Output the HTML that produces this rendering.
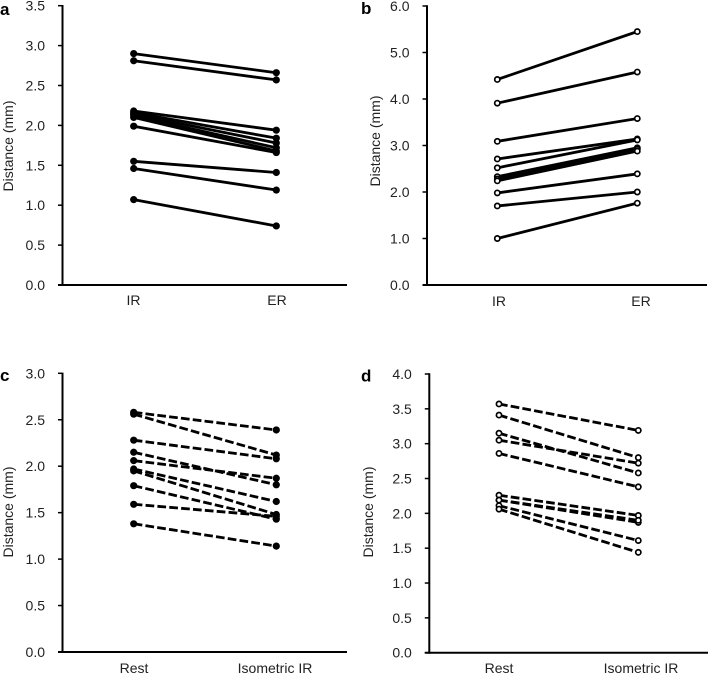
<!DOCTYPE html>
<html lang="en">
<head>
<meta charset="utf-8">
<title>Distance charts</title>
<style>
html,body{margin:0;padding:0;background:#fff;}
svg{display:block;font-family:"Liberation Sans",Arial,sans-serif;}
text{fill:#222;}
</style>
</head>
<body>
<svg id="chart" xmlns="http://www.w3.org/2000/svg" width="708" height="674" viewBox="0 0 708 674"></svg>
<script>
// Panel a
const aCategories = ["IR", "ER"];
const aTicks = ["0.0", "0.5", "1.0", "1.5", "2.0", "2.5", "3.0", "3.5"];
const aFirst = [2.90, 2.81, 2.18, 2.16, 2.14, 2.12, 2.10, 1.99, 1.55, 1.46, 1.07];
const aSecond = [2.66, 2.57, 1.94, 1.84, 1.78, 1.72, 1.68, 1.66, 1.41, 1.19, 0.74];
// Panel b
const bCategories = ["IR", "ER"];
const bTicks = ["0.0", "1.0", "2.0", "3.0", "4.0", "5.0", "6.0"];
const bFirst = [4.42, 3.91, 3.09, 2.71, 2.52, 2.33, 2.28, 2.24, 1.98, 1.70, 1.00];
const bSecond = [5.45, 4.58, 3.58, 3.14, 3.12, 2.95, 2.92, 2.88, 2.39, 2.00, 1.76];
// Panel c
const cCategories = ["Rest", "Isometric IR"];
const cTicks = ["0.0", "0.5", "1.0", "1.5", "2.0", "2.5", "3.0"];
const cFirst = [2.58, 2.56, 2.28, 2.15, 2.06, 1.97, 1.95, 1.79, 1.59, 1.38];
const cSecond = [2.39, 2.12, 2.08, 1.80, 1.87, 1.62, 1.48, 1.43, 1.46, 1.14];
// Panel d
const dCategories = ["Rest", "Isometric IR"];
const dTicks = ["0.0", "0.5", "1.0", "1.5", "2.0", "2.5", "3.0", "3.5", "4.0"];
const dFirst = [3.57, 3.41, 3.15, 3.05, 2.86, 2.26, 2.19, 2.19, 2.11, 2.06];
const dSecond = [3.19, 2.80, 2.58, 2.72, 2.38, 1.97, 1.87, 1.90, 1.61, 1.44];

const SVG_NS = "http://www.w3.org/2000/svg";
const root = document.getElementById("chart");

function make(parent, tag, attrs, text) {
  const el = document.createElementNS(SVG_NS, tag);
  for (const k in attrs) el.setAttribute(k, attrs[k]);
  if (text !== undefined) el.textContent = text;
  parent.appendChild(el);
  return el;
}

function drawPanel(p) {
  const g = make(root, "g", {});
  
  

  const maxVal = parseFloat(p.ticks[p.ticks.length - 1]);
  const y = v => p.bottom - (v / maxVal) * (p.bottom - p.top);
  const x = i => (i === 0 ? p.x0 : p.x1);

  const letter = make(g, "text", {x: p.letterX, y: p.letterY, "font-size": 17, "font-weight": "bold", style: "fill:#000"}, p.letter);
  
  

  const title = make(g, "text", {
    x: 0, y: 0, "font-size": 14, "text-anchor": "middle",
    transform: "translate(" + p.titleX + "," + p.titleY + ") rotate(-90)"
  }, "Distance (mm)");
  
  

  p.ticks.forEach(t => {
    const v = parseFloat(t);
    const tick = make(g, "line", {x1: p.axisX - 4.5, x2: p.axisX, y1: y(v), y2: y(v), stroke: "#000", "stroke-width": 1.5});
    
    
    const label = make(g, "text", {x: p.axisX - 17.5, y: y(v) + 5, "font-size": 14, "text-anchor": "end"}, t);
    
    
  });

  const yAxis = make(g, "line", {x1: p.axisX, x2: p.axisX, y1: p.top - 0.7, y2: p.bottom + 1, stroke: "#000", "stroke-width": 2});
  
  
  const xAxis = make(g, "line", {x1: p.axisX - 4.5, x2: p.axisEnd, y1: p.bottom, y2: p.bottom, stroke: "#000", "stroke-width": 2});
  
  

  p.categories.forEach((c, i) => {
    const label = make(g, "text", {x: p.labelX[i], y: p.labelY, "font-size": 14, "text-anchor": "middle"}, c);
    
    
  });

  p.first.forEach((v, i) => {
    const attrs = {x1: x(0), y1: y(v), x2: x(1), y2: y(p.second[i]), stroke: "#000", "stroke-width": 2.8};
    if (p.dashed) attrs["stroke-dasharray"] = "8.7 3.2";
    const seg = make(g, "line", attrs);
    
    
  });

  p.first.forEach((v, i) => {
    [v, p.second[i]].forEach((val, side) => {
      const dot = make(g, "circle", {
        cx: x(side), cy: y(val), r: p.open ? 2.6 : 3.6,
        fill: p.open ? "#fff" : "#000", stroke: "#000", "stroke-width": p.open ? 1.7 : 0
      });
      
      
    });
  });
}

drawPanel({letter: "a", categories: aCategories, ticks: aTicks, first: aFirst, second: aSecond,
  axisX: 62.5, axisEnd: 347, top: 5.7, bottom: 285, x0: 133.7, x1: 276.3,
  labelX: [133.5, 277], labelY: 305, titleX: 13, titleY: 146, letterX: 0, letterY: 15, open: false, dashed: false});
drawPanel({letter: "b", categories: bCategories, ticks: bTicks, first: bFirst, second: bSecond,
  axisX: 427, axisEnd: 707, top: 6, bottom: 285, x0: 497.3, x1: 637.3,
  labelX: [499, 641], labelY: 306, titleX: 380, titleY: 141, letterX: 361, letterY: 14, open: true, dashed: false});
drawPanel({letter: "c", categories: cCategories, ticks: cTicks, first: cFirst, second: cSecond,
  axisX: 62.5, axisEnd: 347, top: 373.3, bottom: 652, x0: 133.7, x1: 276.3,
  labelX: [134, 275], labelY: 673, titleX: 13, titleY: 512, letterX: 0, letterY: 381, open: false, dashed: true});
drawPanel({letter: "d", categories: dCategories, ticks: dTicks, first: dFirst, second: dSecond,
  axisX: 429.3, axisEnd: 708, top: 374, bottom: 652.7, x0: 499, x1: 638.3,
  labelX: [499, 641], labelY: 673, titleX: 373, titleY: 512, letterX: 361, letterY: 381.5, open: true, dashed: true});
</script>
</body>
</html>
